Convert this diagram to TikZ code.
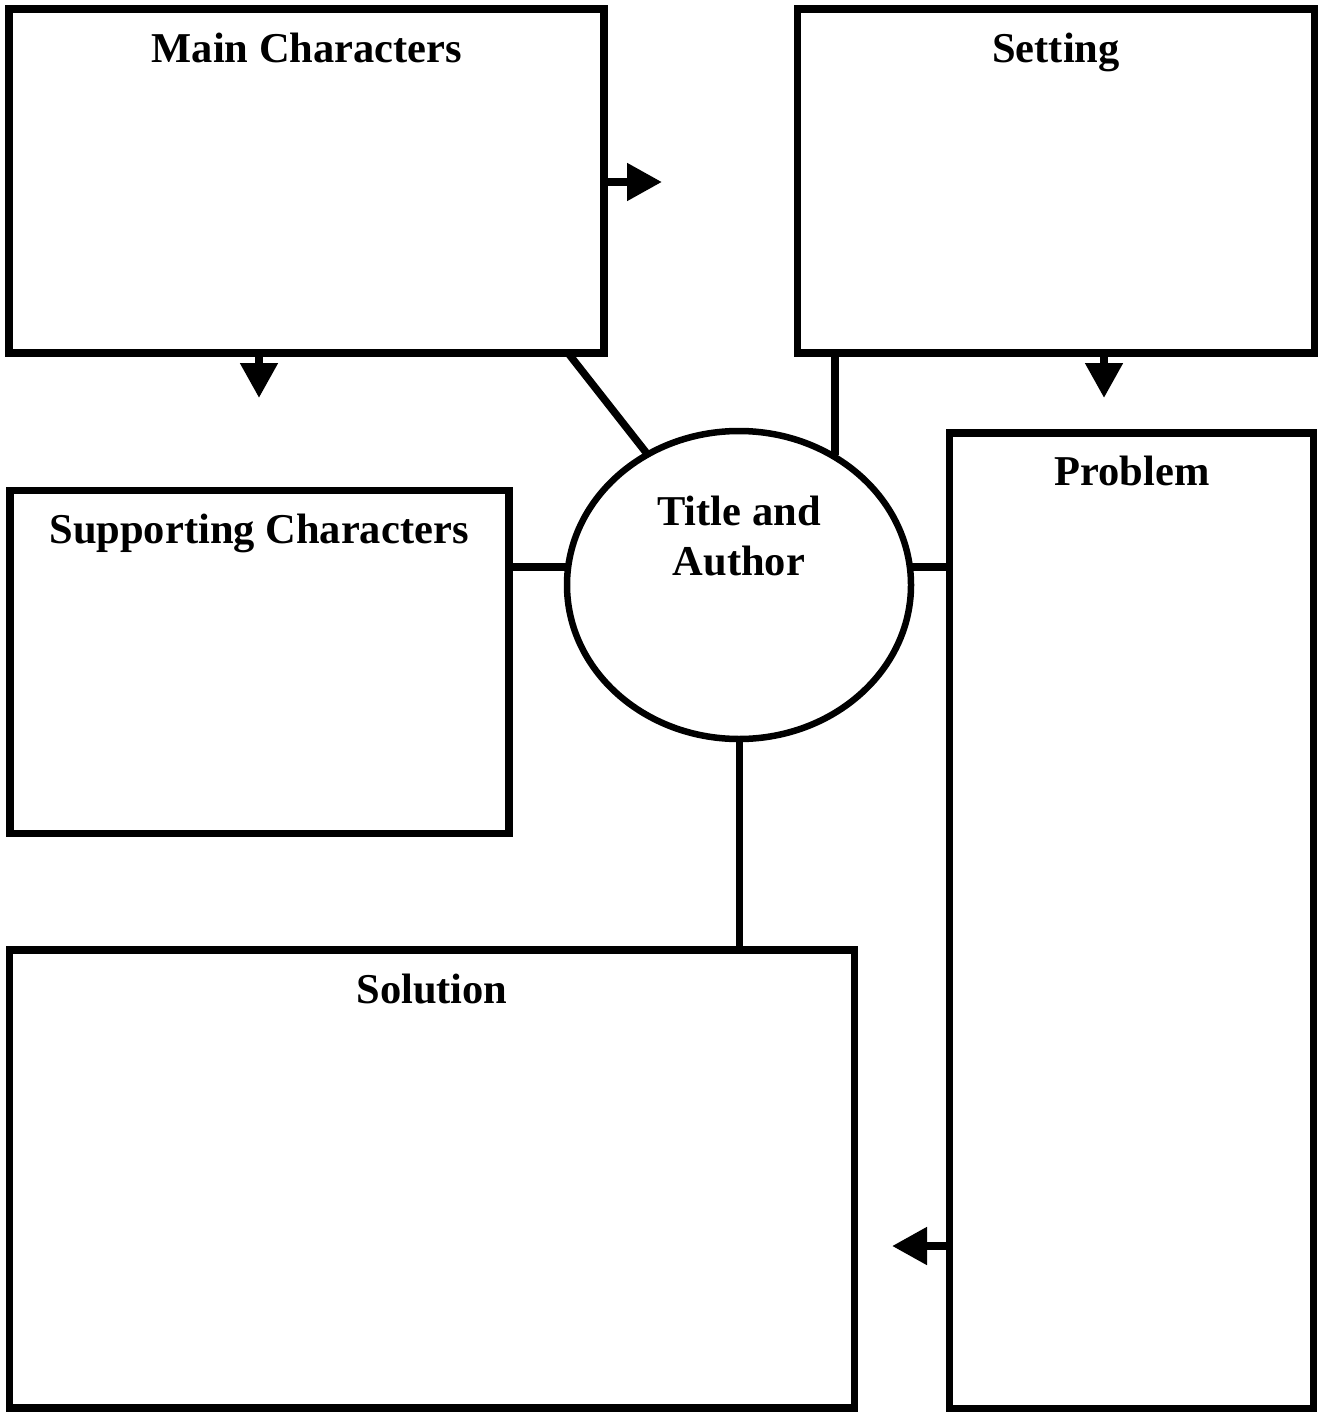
\documentclass[tikz,border=0pt]{standalone}
\usepackage{fontspec}
\setmainfont{Liberation Serif}
\usetikzlibrary{arrows.meta,shapes.geometric}
\begin{document}
\begin{tikzpicture}[x=1pt,y=-1pt,
  box/.style={draw,line width=7.5pt,rectangle,inner sep=0pt,outer sep=0pt,line join=miter},
  oval/.style={draw,line width=6.5pt,ellipse,inner sep=0pt,outer sep=0pt},
  link/.style={line width=7.5pt},
  flow/.style={line width=8pt,-{Triangle[length=35pt 0 0,width=36pt 0 0]}},
  lbl/.style={anchor=base,font=\fontsize{42.5pt}{50pt}\selectfont\bfseries,inner sep=0pt,align=center}]
\useasboundingbox (0,0) rectangle (1320,1412);
% boxes
\node[box,minimum width=595pt,minimum height=344pt] (mc) at (306.5,181) {};
\node[box,minimum width=517pt,minimum height=344pt] (st) at (1056,181) {};
\node[box,minimum width=364pt,minimum height=976pt] (pr) at (1131.5,921) {};
\node[box,minimum width=499pt,minimum height=343pt] (sc) at (259.5,662) {};
\node[box,minimum width=845pt,minimum height=458pt] (so) at (432,1179) {};
\node[oval,minimum width=344pt,minimum height=308pt] (ta) at (739,585) {};
% labels
\node[lbl] (lmc) at (307,63) {Main Characters};
\node[lbl] (lst) at (1056,63) {Setting};
\node[lbl] (lpr) at (1132,485) {Problem};
\node[lbl] (lsc) at (259,543) {Supporting Characters};
\node[lbl] (lso) at (432,1003) {Solution};
\node[lbl] (lta1) at (739,525) {Title and};
\node[lbl] (lta2) at (739,575) {Author};
% helper coordinates
\coordinate (xa) at (568,0);
\coordinate (xb) at (835,0);
\coordinate (ya) at (0,567);
\coordinate (xs) at (739.5,0);
\coordinate (tipR) at (662,182);
\coordinate (tipD1) at (259,398);
\coordinate (tipD2) at (1104,398);
\coordinate (tipL) at (892,1246);
% connectors
\draw[link] (mc.south -| xa) -- (ta.125);
\draw[link] (st.south -| xb) -- (ta.55 -| xb);
\draw[link] (sc.east |- ya) -- (ta.west |- ya);
\draw[link] (ta.east |- ya) -- (pr.west |- ya);
\draw[link] (ta.south -| xs) -- (so.north -| xs);
% arrows
\draw[flow] (mc.east |- tipR) -- (tipR);
\draw[flow] (mc.south -| tipD1) -- (tipD1);
\draw[flow] (st.south -| tipD2) -- (tipD2);
\draw[flow] (pr.west |- tipL) -- (tipL);
\end{tikzpicture}
\end{document}
